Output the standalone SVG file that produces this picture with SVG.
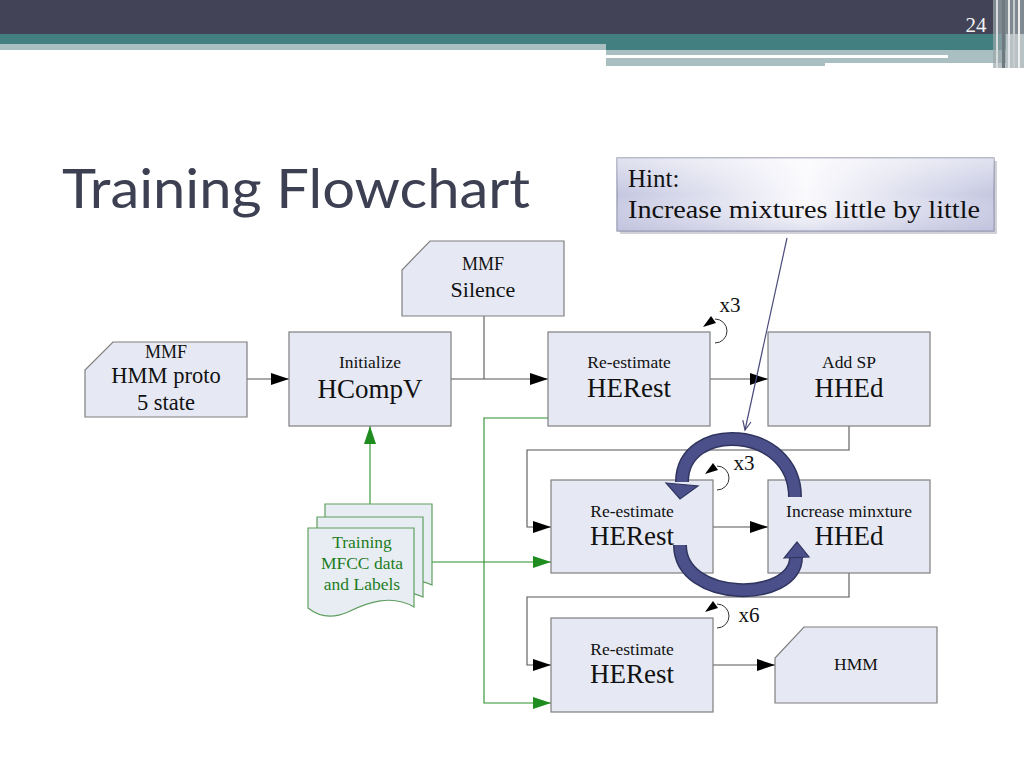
<svg xmlns="http://www.w3.org/2000/svg" width="1024" height="768" viewBox="0 0 1024 768">
<defs>
<style>
.box{fill:#e6e9f4;stroke:#7f7f7f;stroke-width:1.2}
.doc{fill:#e8edf4;stroke:#5f9f5f;stroke-width:1.2}
.t{font-family:"Liberation Serif","Times New Roman",serif;fill:#111;text-anchor:middle}
.s{font-size:17.5px}
.b{font-size:27px}
.g{font-family:"Liberation Serif",serif;fill:#1d7d1d;text-anchor:middle;font-size:17.5px}
.c{fill:none;stroke:#555;stroke-width:1.1}
.cg{fill:none;stroke:#2a8f2a;stroke-width:1.1}
.loop{fill:none;stroke:#333;stroke-width:1}
.ring{fill:none;stroke:#30355f;stroke-width:14}
.ringi{fill:none;stroke:#4b508a;stroke-width:11}
.rh{fill:#4b508a;stroke:#30355f;stroke-width:1.2}
</style>
<marker id="ab" viewBox="0 0 18 12" refX="18" refY="6" markerWidth="18" markerHeight="12" markerUnits="userSpaceOnUse" orient="auto"><path d="M0,0L18,6L0,12z" fill="#000"/></marker>
<marker id="ag" viewBox="0 0 18 12" refX="18" refY="6" markerWidth="18" markerHeight="12" markerUnits="userSpaceOnUse" orient="auto"><path d="M0,0L18,6L0,12z" fill="#1e8c1e"/></marker>
<linearGradient id="hg" x1="0" y1="0" x2="1" y2="0">
<stop offset="0" stop-color="#c5c7e1"/><stop offset="0.5" stop-color="#fafafd"/><stop offset="1" stop-color="#c5c7e1"/>
</linearGradient>
<linearGradient id="hv" x1="0" y1="0" x2="0" y2="1">
<stop offset="0" stop-color="#ffffff" stop-opacity="0.5"/><stop offset="0.5" stop-color="#ffffff" stop-opacity="0"/><stop offset="1" stop-color="#b8bad8" stop-opacity="0.4"/>
</linearGradient>
</defs>

<rect width="1024" height="768" fill="#ffffff"/>

<g id="header">
<rect x="0" y="0" width="1024" height="34" fill="#424357"/>
<rect x="0" y="34" width="1006" height="10" fill="#417f80"/>
<rect x="0" y="44" width="606" height="6" fill="#a9bfc2"/>
<rect x="606" y="44" width="400" height="6" fill="#417f80"/>
<rect x="606" y="50" width="400" height="16" fill="#a9bfc2"/>
<rect x="606" y="55" width="342" height="3" fill="#ffffff"/>
<rect x="825" y="63" width="181" height="4" fill="#ffffff"/>
<rect x="993" y="0" width="31" height="68" fill="#9aa6aa" opacity="0.7"/>
<rect x="996" y="0" width="2" height="68" fill="#d8dcdc"/>
<rect x="1002" y="0" width="3" height="68" fill="#6f7a80"/>
<rect x="1008" y="0" width="2" height="68" fill="#e4e7e7"/>
<rect x="1013" y="0" width="2" height="68" fill="#c7cdcf"/>
<rect x="1018" y="0" width="2" height="68" fill="#eef0f0"/>
<text x="976" y="32" font-family="Liberation Serif, serif" font-size="21" fill="#f2f2f2" text-anchor="middle">24</text>
</g>

<text x="62" y="208" font-family="Lato, 'Open Sans', sans-serif" font-size="54" fill="#3d4052" textLength="468" lengthAdjust="spacingAndGlyphs">Training Flowchart</text>

<g id="connectors">
<path class="c" d="M247,379H289" marker-end="url(#ab)"/>
<path class="c" d="M451,379H548" marker-end="url(#ab)"/>
<path class="c" d="M484,316V379"/>
<path class="c" d="M710,379H768" marker-end="url(#ab)"/>
<path class="c" d="M849,426V450H527V527H551" marker-end="url(#ab)"/>
<path class="c" d="M713,527H768" marker-end="url(#ab)"/>
<path class="c" d="M849,573V597H527V665H551" marker-end="url(#ab)"/>
<path class="c" d="M713,665H775" marker-end="url(#ab)"/>
<path class="cg" d="M370,517V426" marker-end="url(#ag)"/>
<path class="cg" d="M423,562H551" marker-end="url(#ag)"/>
<path class="cg" d="M548,418H484V703H551" marker-end="url(#ag)"/>
<path class="loop" d="M715,343A12,12 0 0 0 715,319"/>
<polygon points="703,327 711,316 716,323" fill="#000"/>
<path class="loop" d="M717,490A12,12 0 0 0 717,466"/>
<polygon points="705,474 713,463 718,470" fill="#000"/>
<path class="loop" d="M717,628A12,12 0 0 0 717,604"/>
<polygon points="705,612 713,601 718,608" fill="#000"/>
</g>

<g id="n-hmmproto">
<path class="box" d="M113,342H247V417H85V370Z"/>
<text class="t" x="166" y="358" font-size="18">MMF</text>
<text class="t" x="166" y="383" font-size="22.5">HMM proto</text>
<text class="t" x="166" y="410" font-size="22.5">5 state</text>
</g>

<g id="n-silence">
<path class="box" d="M430,241H564V316H402V270Z"/>
<text class="t" x="483" y="270" font-size="18">MMF</text>
<text class="t" x="483" y="297" font-size="22">Silence</text>
</g>

<g id="n-hcompv">
<rect class="box" x="289" y="332" width="162" height="94"/>
<text class="t s" x="370" y="368">Initialize</text>
<text class="t b" x="370" y="398">HCompV</text>
</g>

<g id="n-herest1">
<rect class="box" x="548" y="332" width="162" height="94"/>
<text class="t s" x="629" y="368">Re-estimate</text>
<text class="t b" x="629" y="397">HERest</text>
</g>

<g id="n-addsp">
<rect class="box" x="768" y="332" width="162" height="94"/>
<text class="t s" x="849" y="368">Add SP</text>
<text class="t b" x="849" y="397">HHEd</text>
</g>

<g id="n-herest2">
<rect class="box" x="551" y="480" width="162" height="93"/>
<text class="t s" x="632" y="517">Re-estimate</text>
<text class="t b" x="632" y="545">HERest</text>
</g>

<g id="n-incmix">
<rect class="box" x="768" y="480" width="162" height="93"/>
<text class="t s" x="849" y="517">Increase minxture</text>
<text class="t b" x="849" y="545">HHEd</text>
</g>

<g id="n-herest3">
<rect class="box" x="551" y="618" width="162" height="94"/>
<text class="t s" x="632" y="655">Re-estimate</text>
<text class="t b" x="632" y="683">HERest</text>
</g>

<g id="n-hmm">
<path class="box" d="M804,627H937V703H775V658Z"/>
<text class="t s" x="856" y="670">HMM</text>
</g>

<g id="n-training">
<path class="doc" d="M325,504H432V585C410,575 390,582 372,592C355,601 338,598 325,592Z"/>
<path class="doc" d="M317,517H423V597C401,587 381,594 363,604C346,613 329,610 317,604Z"/>
<path class="doc" d="M308,528H414V607C392,594 368,602 348,612C330,620 318,616 308,608Z"/>
<text class="g" x="362" y="548">Training</text>
<text class="g" x="362" y="569">MFCC data</text>
<text class="g" x="362" y="590">and Labels</text>
</g>

<g id="labels">
<text class="t" x="730" y="312" font-size="21">x3</text>
<text class="t" x="744" y="470" font-size="21">x3</text>
<text class="t" x="749" y="622" font-size="21">x6</text>
</g>

<g id="ring">
<path class="ring" d="M795,497C795,425 682,420 682,482"/>
<path class="ringi" d="M795,497C795,425 682,420 682,482"/>
<polygon class="rh" points="666,483 698,486 680,499"/>
<path class="ring" d="M680,545C680,603 796,603 796,557"/>
<path class="ringi" d="M680,545C680,603 796,603 796,557"/>
<polygon class="rh" points="784,558 809,557 797,542"/>
</g>

<g id="hint">
<rect x="620" y="161" width="377" height="73" fill="#9a9aa8" opacity="0.45"/>
<rect x="617" y="158" width="377" height="73" fill="url(#hg)" stroke="#8c8ea8" stroke-width="1.2"/>
<rect x="617" y="158" width="377" height="73" fill="url(#hv)"/>
<text x="628" y="187" font-family="Liberation Serif, serif" font-size="25" fill="#111">Hint:</text>
<text x="628" y="218" font-family="Liberation Serif, serif" font-size="25" fill="#111" textLength="352" lengthAdjust="spacingAndGlyphs">Increase mixtures little by little</text>
<path d="M787,238L745,430" stroke="#4a4a7c" stroke-width="1.2" fill="none"/>
<polyline points="742.8,420.2 745,430 751,422" stroke="#4a4a7c" stroke-width="1.2" fill="none"/>
</g>
</svg>
